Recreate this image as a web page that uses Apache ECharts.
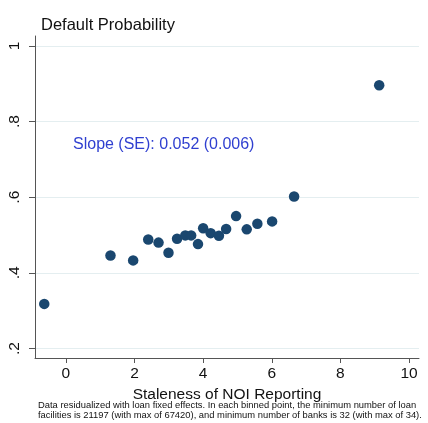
<!DOCTYPE html>
<html><head><meta charset="utf-8">
<script src="https://cdn.jsdelivr.net/npm/echarts@6/dist/echarts.min.js"></script>
<style>html,body{margin:0;padding:0;background:#fff;}#c{width:428px;height:423px;}</style>
</head><body><div id="c"></div>
<script>
const staleness = [-0.63, 1.30, 1.96, 2.40, 2.70, 2.99, 3.24, 3.48, 3.65, 3.85, 4.00, 4.22, 4.46, 4.67, 4.96, 5.27, 5.58, 6.01, 6.65, 9.13];
const defaultProb = [0.318, 0.446, 0.433, 0.488, 0.480, 0.453, 0.490, 0.499, 0.499, 0.476, 0.518, 0.505, 0.498, 0.516, 0.550, 0.515, 0.530, 0.536, 0.602, 0.896];
const xTicks = [0, 2, 4, 6, 8, 10];
const yTicks = [0.2, 0.4, 0.6, 0.8, 1];
const titleText = 'Default Probability';
const xName = 'Staleness of NOI Reporting';
const slopeText = 'Slope (SE): 0.052 (0.006)';
const noteLines = ['Data residualized with loan fixed effects. In each binned point, the minimum number of loan',
  'facilities is 21197 (with max of 67420), and minimum number of banks is 32 (with max of 34).'];

const FONT = '"Liberation Sans", Arial, sans-serif';
const chart = echarts.init(document.getElementById('c'), null, {renderer: 'canvas'});
const yLabel = v => { const s = String(+v.toFixed(2)); return s.startsWith('0.') ? s.slice(1) : s; };
chart.setOption({
  animation: false,
  backgroundColor: '#fff',
  textStyle: {fontFamily: FONT},
  title: {text: titleText, left: 36, top: 12, textStyle: {fontSize: 16.5, fontWeight: 'normal', color: '#111', fontFamily: FONT}},
  grid: {left: 35, right: 9, top: 36, bottom: 65, containLabel: false},
  xAxis: {
    type: 'value', min: -0.9, max: 10.29,
    name: xName, nameLocation: 'middle', nameGap: 24,
    nameTextStyle: {fontSize: 15.5, color: '#111', fontFamily: FONT},
    axisLine: {show: true, onZero: false, lineStyle: {color: '#555', width: 1}},
    axisTick: {show: true, length: 5, customValues: xTicks, lineStyle: {color: '#555'}},
    axisLabel: {customValues: xTicks, fontSize: 15.5, color: '#111', margin: 8, fontFamily: FONT},
    splitLine: {show: false}
  },
  yAxis: {
    type: 'value', min: 0.175, max: 1.026,
    axisLine: {show: true, onZero: false, lineStyle: {color: '#555', width: 1}},
    axisTick: {show: true, length: 6, customValues: yTicks, lineStyle: {color: '#555'}},
    axisLabel: {customValues: yTicks, rotate: 90, fontSize: 15.5, color: '#111', margin: 12, fontFamily: FONT, formatter: yLabel},
    splitLine: {show: true, lineStyle: {color: '#e4eef0', width: 1}}
  },
  series: [{
    type: 'scatter',
    data: staleness.map((x, i) => [x, defaultProb[i]]),
    symbolSize: 10.5,
    itemStyle: {color: '#1a476f', opacity: 1}
  }],
  graphic: [
    {type: 'text', x: 73, y: 145, style: {text: slopeText, fontSize: 16, fill: '#2f3fd0', fontFamily: FONT, verticalAlign: 'middle', align: 'left'}},
    {type: 'text', x: 38, y: 405, style: {text: noteLines[0], fontSize: 9.4, fill: '#111', fontFamily: FONT, verticalAlign: 'middle', align: 'left'}},
    {type: 'text', x: 38, y: 415, style: {text: noteLines[1], fontSize: 9.4, fill: '#111', fontFamily: FONT, verticalAlign: 'middle', align: 'left'}}
  ]
});
</script></body></html>
